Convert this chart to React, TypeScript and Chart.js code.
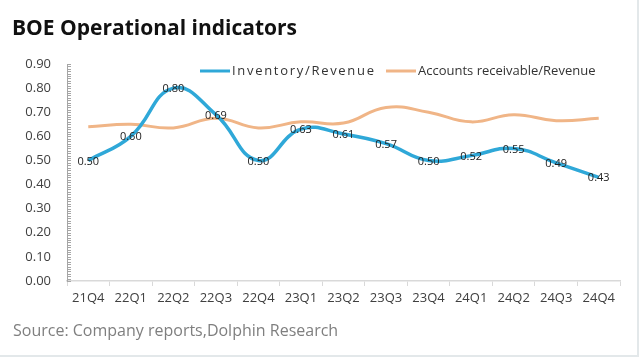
import React, { useEffect, useRef } from "react";
import { Chart, registerables } from "chart.js";

Chart.register(...registerables);

const categories = ["21Q4", "22Q1", "22Q2", "22Q3", "22Q4", "23Q1", "23Q2", "23Q3", "23Q4", "24Q1", "24Q2", "24Q3", "24Q4"];
const inventoryRevenue = [0.50, 0.60, 0.80, 0.69, 0.50, 0.63, 0.61, 0.57, 0.50, 0.52, 0.55, 0.49, 0.43];
const receivableRevenue = [0.64, 0.65, 0.635, 0.675, 0.635, 0.66, 0.655, 0.72, 0.70, 0.66, 0.69, 0.665, 0.675];
const seriesNames = ["Inventory/Revenue", "Accounts receivable/Revenue"];
const titleText = "BOE Operational indicators";
const sourceText = "Source: Company reports,Dolphin Research";

const BLUE = "#2fa8d8";
const ORANGE = "#f0b587";
const FONT = "'Open Sans', 'Noto Sans', sans-serif";

const decorPlugin = {
  id: "decor",
  afterDraw(chart: any) {
    const ctx = chart.ctx;
    const y = chart.scales.y;
    const area = chart.chartArea;
    ctx.save();
    // minor ticks on y axis
    ctx.strokeStyle = "#a6a6a6";
    ctx.lineWidth = 1;
    for (let i = 0; i <= 90; i++) {
      const py = Math.round(y.getPixelForValue(i / 100)) + 0.5;
      ctx.beginPath();
      ctx.moveTo(area.left, py);
      ctx.lineTo(area.left + 4, py);
      ctx.stroke();
    }
    // data labels for inventory series
    const meta = chart.getDatasetMeta(0);
    ctx.font = "11px " + FONT;
    ctx.fillStyle = "#222";
    ctx.textAlign = "center";
    ctx.textBaseline = "middle";
    meta.data.forEach((pt: any, i: number) => {
      ctx.fillText(inventoryRevenue[i].toFixed(2), pt.x, pt.y + 1);
    });
    // legend
    const ly = 71;
    const items = [
      { x: 200, color: BLUE, text: seriesNames[0], spacing: "1.7px" },
      { x: 386, color: ORANGE, text: seriesNames[1], spacing: "0px" },
    ];
    ctx.font = "13px " + FONT;
    ctx.textAlign = "left";
    ctx.fillStyle = "#333";
    items.forEach((it) => {
      ctx.strokeStyle = it.color;
      ctx.lineWidth = 3;
      ctx.beginPath();
      ctx.moveTo(it.x, ly);
      ctx.lineTo(it.x + 30, ly);
      ctx.stroke();
      (ctx as any).letterSpacing = it.spacing;
      ctx.fillText(it.text, it.x + 32, ly);
    });
    (ctx as any).letterSpacing = "0px";
    // title
    ctx.font = "bold 21px " + FONT;
    ctx.fillStyle = "#111";
    ctx.textBaseline = "middle";
    ctx.fillText(titleText, 12, 29);
    // source
    ctx.font = "16px " + FONT;
    ctx.fillStyle = "#7f7f7f";
    ctx.fillText(sourceText, 13, 331);
    ctx.restore();
  },
};

export default function App() {
  const ref = useRef<HTMLCanvasElement | null>(null);
  useEffect(() => {
    if (!ref.current) return;
    const chart = new Chart(ref.current, {
      type: "line",
      data: {
        labels: categories,
        datasets: [
          {
            label: seriesNames[0],
            data: inventoryRevenue,
            borderColor: BLUE,
            borderWidth: 3.5,
            pointRadius: 0,
            tension: 0.45,
            fill: false,
          },
          {
            label: seriesNames[1],
            data: receivableRevenue,
            borderColor: ORANGE,
            borderWidth: 3,
            pointRadius: 0,
            tension: 0.45,
            fill: false,
          },
        ],
      },
      options: {
        animation: false,
        responsive: false,
        maintainAspectRatio: false,
        layout: { padding: { left: 10, right: 20, top: 64, bottom: 0 } },
        plugins: { legend: { display: false }, tooltip: { enabled: false }, title: { display: false } },
        scales: {
          x: {
            offset: true,
            grid: { offset: true, drawOnChartArea: false, drawTicks: true, tickLength: 5, color: "#d9d9d9" },
            border: { display: true, color: "#d9d9d9", width: 1.5 },
            ticks: { color: "#404040", font: { size: 13, family: FONT }, padding: 4, maxRotation: 0, autoSkip: false },
            afterFit(scale: any) { scale.height = 76; },
          },
          y: {
            min: 0,
            max: 0.9,
            grid: { display: false, drawTicks: false },
            border: { display: true, color: "#a6a6a6", width: 1 },
            ticks: {
              stepSize: 0.1,
              color: "#404040",
              font: { size: 13, family: FONT },
              padding: 16,
              callback: (v: any) => Number(v).toFixed(2),
            },
            afterFit(scale: any) { scale.width = 57; },
          },
        },
      },
      plugins: [decorPlugin],
    });
    return () => chart.destroy();
  }, []);
  return (
    <div style={{ position: "fixed", left: 0, top: 0, width: 640, height: 357, background: "#fff" }}>
      <div style={{ position: "absolute", left: 0, top: 0, width: 637, height: 355, borderRight: "2px solid #e3e8ea", borderBottom: "2px solid #e3e8ea" }} />
      <canvas ref={ref} width={640} height={357} style={{ position: "absolute", left: 0, top: 0 }} />
    </div>
  );
}
